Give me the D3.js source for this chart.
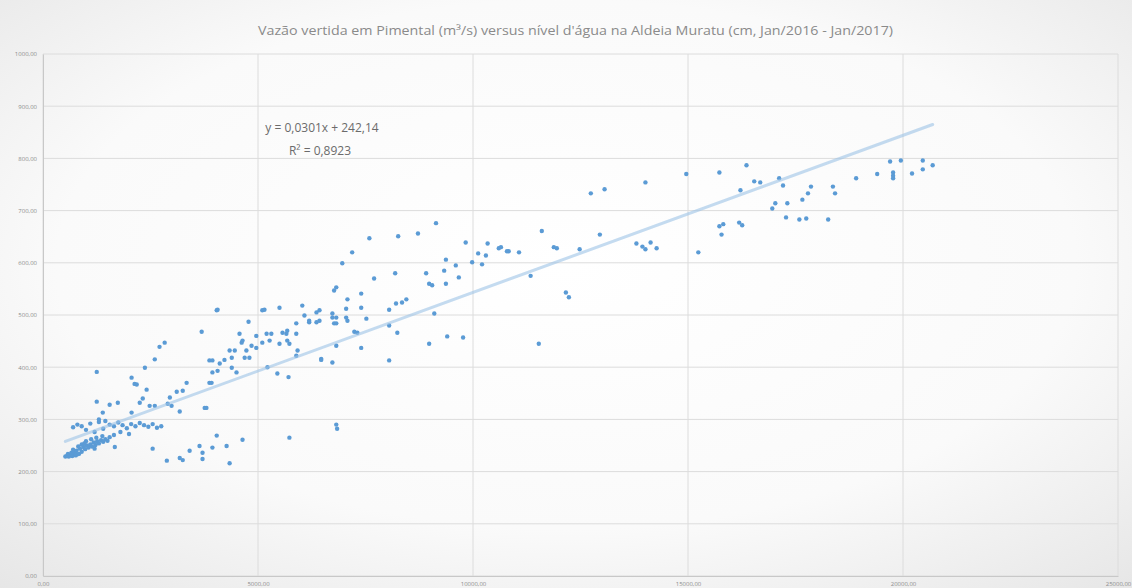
<!DOCTYPE html>
<html>
<head>
<meta charset="utf-8">
<script src="https://cdn.jsdelivr.net/npm/d3@7"></script>
<style>
  body { margin: 0; background: #fff; }
  svg { display: block; }
</style>
</head>
<body>
<svg width="1132" height="588"></svg>
<script>
// Vazão vertida em Pimental (m3/s) x nível d'água na Aldeia Muratu (cm)
var titulo = "Vazão vertida em Pimental (m³/s) versus nível d'água na Aldeia Muratu (cm, Jan/2016 - Jan/2017)";
var equacao = "y = 0,0301x + 242,14";
var r2 = "R² = 0,8923";
var slope = 0.0301, intercept = 242.14;

var xTicks = [0, 5000, 10000, 15000, 20000, 25000];
var yTicks = [0, 100, 200, 300, 400, 500, 600, 700, 800, 900, 1000];

// vazão (x) e nível (y)
var vazao = [
  520,560,600,640,680,720,760,800,840,580,660,740,700,780,860,900,940,980,1020,1060,
  1100,1140,1180,1220,1260,1300,1350,1400,1450,1500,900,1000,1120,1240,1380,1550,820,960,1650,1200,
  700,800,900,1000,1100,1200,1300,1400,1450,1550,1650,1750,1850,1950,2050,2150,2250,2350,2450,2550,
  2650,2750,1800,2000,1300,
  1250,1250,1390,1550,1740,2060,2130,2180,2370,2320,2060,2250,2480,2600,2600,2710,2830,2410,2950,2990,
  2900,3110,3250,3340,3180,3760,3800,3690,4040,3870,3870,
  1670,2550,2880,3180,3250,3410,3640,3710,3710,3940,4040,4270,4340,4640,
  3920,3940,3940,4060,4110,4220,4390,4390,4460,4500,4340,4570,4620,4690,4730,4850,4960,4780,4640,4800,
  4960,4060,5100,5150,5500,5200,5270,5500,5100,5310,5570,5660,5680,5680,5890,5890,5730,5890,5920,6030,
  6190,6360,6430,6730,6770,5220,5450,5710,6470,6730,5730,6820,6840,
  6080,6190,6360,6430,6730,6820,6820,7050,7050,7080,7080,6770,6820,6960,7190,7590,8260,8720,9140,7400,
  7400,7240,7310,7520,7700,8190,8050,8210,8350,8450,8050,8240,8050,6820,7400,6470,
  8910,8980,9050,9370,9330,9370,9600,9670,9100,8980,9400,9770,9830,9980,10120,10210,10300,10340,10600,10830,
  11070,10650,10790,11600,11880,11950,11340,12160,12230,11530,12480,12950,
  12740,13060,14010,14960,15730,16360,16220,16540,16680,17120,17210,16960,17030,17310,17660,17790,17860,18370,18420,18910,
  19400,19770,19770,19770,19700,19950,20210,20460,20460,20690,17280,17590,17750,18260,15730,15820,15780,16190,16260,15240,
  13800,13940,14010,14130,14270
];
var nivel = [
  229,230,229,231,230,232,231,233,234,234,236,238,242,240,244,238,247,243,250,246,
  252,248,256,251,258,254,260,257,262,259,252,258,262,265,268,266,248,254,270,244,
  285,290,287,280,292,276,295,282,297,290,287,294,289,283,291,287,293,289,286,291,
  284,287,276,272,300,
  391,334,313,328,332,380,368,367,399,340,313,332,326,326,415,439,447,357,342,326,
  330,353,355,370,315,322,322,468,509,413,370,
  247,244,221,226,222,240,249,236,224,246,269,249,216,261,
  370,390,413,393,407,414,418,399,432,390,432,464,447,418,432,441,437,487,451,418,
  460,510,509,510,514,464,451,445,447,464,466,464,470,451,484,464,445,422,432,518,
  486,486,509,495,484,400,388,381,416,409,265,290,282,
  499,489,505,489,503,495,484,512,495,530,489,547,553,599,620,647,651,656,676,541,
  514,468,466,493,570,580,510,522,524,530,480,466,413,441,437,414,
  580,560,557,560,585,606,595,572,503,445,459,457,639,601,618,597,614,637,628,622,
  620,630,622,661,630,628,575,543,534,445,626,654,
  733,741,754,770,773,787,739,756,754,762,748,704,714,714,721,733,746,746,733,762,
  770,773,762,767,794,796,771,796,779,787,687,683,685,683,670,674,654,677,672,620,
  637,631,626,639,628
];

var svg = d3.select("svg"),
    W = +svg.attr("width"),
    H = +svg.attr("height"),
    margin = {top: 54, right: 14, bottom: 12, left: 43},
    width = W - margin.left - margin.right,
    height = H - margin.top - margin.bottom;

var fmt = function (v) { return d3.format(".2f")(v).replace(".", ","); };

var defs = svg.append("defs");
var bg = defs.append("radialGradient").attr("id", "bg")
    .attr("cx", "50%").attr("cy", "45%").attr("r", "75%");
bg.append("stop").attr("offset", "0%").attr("stop-color", "#ffffff");
bg.append("stop").attr("offset", "60%").attr("stop-color", "#fafafa");
bg.append("stop").attr("offset", "100%").attr("stop-color", "#e6e6e6");

svg.append("rect").attr("width", W).attr("height", H).attr("fill", "url(#bg)");

var x = d3.scaleLinear().domain([0, 25000]).range([0, width]),
    y = d3.scaleLinear().domain([0, 1000]).range([height, 0]);

var g = svg.append("g")
    .attr("transform", "translate(" + margin.left + "," + margin.top + ")");

// grade
g.append("g").selectAll("line").data(yTicks).enter().append("line")
    .attr("x1", 0).attr("x2", width)
    .attr("y1", function (d) { return y(d); }).attr("y2", function (d) { return y(d); })
    .attr("stroke", "#dcdcdc").attr("stroke-width", 1);
g.append("g").selectAll("line").data(xTicks).enter().append("line")
    .attr("x1", function (d) { return x(d); }).attr("x2", function (d) { return x(d); })
    .attr("y1", 0).attr("y2", height)
    .attr("stroke", "#dcdcdc").attr("stroke-width", 1);

// eixos
var xAxis = d3.axisBottom(x).tickValues(xTicks).tickFormat(fmt).tickSize(0).tickPadding(6);
var yAxis = d3.axisLeft(y).tickValues(yTicks).tickFormat(fmt).tickSize(0).tickPadding(6);

var gx = g.append("g").attr("transform", "translate(0," + height + ")").call(xAxis);
var gy = g.append("g").call(yAxis);
[gx, gy].forEach(function (a) {
    a.select(".domain").attr("stroke", "#c8c8c8");
    a.selectAll("text").attr("fill", "#8c8c8c")
        .style("font-family", "'Open Sans', sans-serif").style("font-size", "6px");
});

// pontos
var pts = d3.range(vazao.length).map(function (i) { return {x: vazao[i], y: nivel[i]}; });
g.append("g").selectAll("circle").data(pts).enter().append("circle")
    .attr("cx", function (d) { return x(d.x); })
    .attr("cy", function (d) { return y(d.y); })
    .attr("r", 2.2)
    .attr("fill", "#5b9bd5");

// linha de tendência
var ext = d3.extent(vazao);
var line = d3.line()
    .x(function (d) { return x(d); })
    .y(function (d) { return y(slope * d + intercept); });
g.append("path").datum(ext)
    .attr("d", line)
    .attr("fill", "none")
    .attr("stroke", "#9dc3e6")
    .attr("stroke-opacity", 0.6)
    .attr("stroke-width", 3)
    .attr("stroke-linecap", "round");

// título
svg.append("text")
    .attr("x", 258).attr("y", 35)
    .attr("textLength", 635)
    .attr("lengthAdjust", "spacingAndGlyphs")
    .attr("fill", "#8a8a8a")
    .style("font-family", "'Open Sans', sans-serif").style("font-size", "12px")
    .text(titulo);

// equação
var eq = svg.append("text")
    .attr("text-anchor", "middle")
    .attr("fill", "#6b6b6b")
    .style("font-family", "'Open Sans', sans-serif").style("font-size", "12px");
eq.append("tspan").attr("x", 322).attr("y", 132).text(equacao);
eq.append("tspan").attr("x", 320).attr("y", 155).text(r2);
</script>
</body>
</html>
